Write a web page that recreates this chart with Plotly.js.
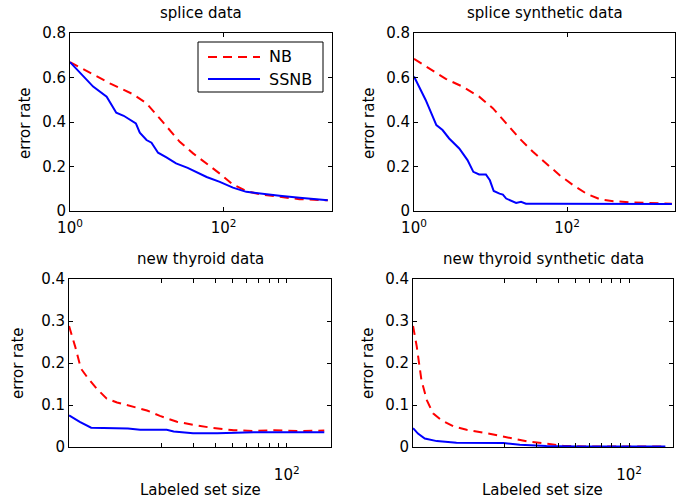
<!DOCTYPE html>
<html>
<head>
<meta charset="utf-8">
<script src="https://cdn.plot.ly/plotly-3.0.1.min.js"></script>
<style>html,body{margin:0;padding:0;background:#fff;}#chart{width:692px;height:500px;}</style>
</head>
<body>
<div id="chart"></div>
<script>
// ---- Data ----
const seriesNames = ["NB", "SSNB"];
const panelTitles = ["splice data", "splice synthetic data", "new thyroid data", "new thyroid synthetic data"];
const yLabel = "error rate";
const xLabel = "Labeled set size";

// splice data
const spliceNB_x = [1, 2, 3.3, 6.6, 9.9, 14.7, 19.9, 26.8, 40, 60, 89, 132, 197, 294, 534, 970, 2265];
const spliceNB_y = [0.669, 0.612, 0.574, 0.525, 0.484, 0.416, 0.364, 0.311, 0.259, 0.214, 0.168, 0.119, 0.090, 0.075, 0.063, 0.053, 0.048];
const spliceSSNB_x = [1, 2, 3, 4, 5, 6.2, 7.2, 8.1, 9.9, 11.5, 14, 18, 24, 34, 49, 60, 89, 132, 197, 294, 534, 970, 2265];
const spliceSSNB_y = [0.669, 0.559, 0.514, 0.442, 0.428, 0.406, 0.394, 0.352, 0.319, 0.307, 0.262, 0.241, 0.214, 0.194, 0.168, 0.153, 0.131, 0.105, 0.086, 0.078, 0.069, 0.060, 0.048];

// splice synthetic data
const spliceSynNB_x = [1, 1.74, 2.6, 4.3, 7.1, 10.7, 16, 23.9, 35.8, 53.5, 80, 120, 179, 268, 402, 735, 2340];
const spliceSynNB_y = [0.684, 0.630, 0.594, 0.559, 0.514, 0.462, 0.394, 0.326, 0.266, 0.214, 0.161, 0.116, 0.078, 0.053, 0.044, 0.038, 0.033];
const spliceSynSSNB_x = [1, 1.42, 1.96, 2.36, 2.88, 3.9, 5.0, 5.96, 7.1, 8.7, 9.8, 11, 13.1, 14.5, 16, 18.5, 21.6, 25, 29, 53.5, 2340];
const spliceSynSSNB_y = [0.605, 0.499, 0.386, 0.364, 0.326, 0.281, 0.229, 0.176, 0.164, 0.164, 0.138, 0.090, 0.078, 0.074, 0.056, 0.048, 0.036, 0.041, 0.033, 0.033, 0.032];

// new thyroid data
const thyNB_x = [6.1, 6.6, 7.1, 7.8, 8.7, 9.9, 11.3, 14, 16.6, 19.6, 24.4, 30, 39, 50.7, 65.6, 85, 120, 162];
const thyNB_y = [0.288, 0.239, 0.187, 0.163, 0.139, 0.115, 0.106, 0.095, 0.087, 0.074, 0.060, 0.053, 0.045, 0.040, 0.038, 0.040, 0.038, 0.039];
const thySSNB_x = [6.1, 7, 8.1, 11.3, 13, 15.2, 18.9, 21.4, 23.4, 30, 41, 65.6, 101, 162];
const thySSNB_y = [0.0755, 0.060, 0.046, 0.045, 0.044, 0.041, 0.040, 0.041, 0.037, 0.033, 0.033, 0.035, 0.035, 0.035];

// new thyroid synthetic data
const thySynNB_x = [6.1, 6.4, 6.8, 7.3, 7.9, 8.8, 10.3, 12.2, 15.8, 20.5, 26.5, 34.3, 42.6, 57.5, 160];
const thySynNB_y = [0.288, 0.239, 0.159, 0.111, 0.080, 0.064, 0.049, 0.041, 0.033, 0.024, 0.0135, 0.008, 0.003, 0.001, 0.001];
const thySynSSNB_x = [6.1, 6.5, 7.1, 8.3, 10.7, 13.3, 16.5, 19.6, 24.3, 34.3, 53, 160];
const thySynSSNB_y = [0.045, 0.032, 0.020, 0.014, 0.010, 0.0095, 0.010, 0.0095, 0.0056, 0.0024, 0.001, 0.001];

// tick labels
const topXTickVals = [1, 100];
const topXTickText = ["10<sup>0</sup>", "10<sup>2</sup>"];
const botXTickVals = [20, 30, 40, 50, 60, 70, 80, 90, 100];
const botXTickText = [" ", " ", " ", " ", " ", " ", " ", " ", "10<sup>2</sup>"];

// ---- Styling ----
const FONT = "DejaVu Sans, Liberation Sans, Arial, sans-serif";
const nbLine = {color: "#ff0000", width: 2, dash: "9px,6px"};
const ssnbLine = {color: "#0000ff", width: 2};

const panels = [
  {nb: [spliceNB_x, spliceNB_y], ss: [spliceSSNB_x, spliceSSNB_y], xa: "x", ya: "y"},
  {nb: [spliceSynNB_x, spliceSynNB_y], ss: [spliceSynSSNB_x, spliceSynSSNB_y], xa: "x2", ya: "y2"},
  {nb: [thyNB_x, thyNB_y], ss: [thySSNB_x, thySSNB_y], xa: "x3", ya: "y3"},
  {nb: [thySynNB_x, thySynNB_y], ss: [thySynSSNB_x, thySynSSNB_y], xa: "x4", ya: "y4"}
];

const traces = [];
panels.forEach((p) => {
  traces.push({x: p.nb[0], y: p.nb[1], xaxis: p.xa, yaxis: p.ya, type: "scatter", mode: "lines",
    name: seriesNames[0], line: nbLine, showlegend: false, hoverinfo: "skip"});
  traces.push({x: p.ss[0], y: p.ss[1], xaxis: p.xa, yaxis: p.ya, type: "scatter", mode: "lines",
    name: seriesNames[1], line: ssnbLine, showlegend: false, hoverinfo: "skip"});
});

function xAx(domain, range, tv, tt, standoff) {
  return {domain: domain, type: "log", range: range, tickmode: "array", tickvals: tv, ticktext: tt,
    tickangle: 0,
    ticks: "inside", ticklen: 4, tickcolor: "#000", showline: true, linecolor: "#000", linewidth: 1,
    mirror: "ticks", showgrid: false, zeroline: false, ticklabelstandoff: standoff,
    tickfont: {family: FONT, size: 15, color: "#000"}};
}
function yAx(domain, range, dtick, anchor) {
  return {domain: domain, range: range, dtick: dtick, tick0: 0, anchor: anchor,
    ticks: "inside", ticklen: 4, tickcolor: "#000", showline: true, linecolor: "#000", linewidth: 1,
    mirror: "ticks", showgrid: false, zeroline: false,
    tickfont: {family: FONT, size: 15, color: "#000"}};
}

const W = 692, H = 500;
const px = v => v / W, py = v => 1 - v / H;
const L1 = px(70), R1 = px(332), L2 = px(414), R2 = px(675);
const L3 = px(69), R3 = px(331), L4 = px(413), R4 = px(673);
const topDom = [py(211), py(33)];
const botDom = [py(447), py(279)];
const topRange = [0, 3.41];
const botRange = [0.785, 2.247];

const annFont = {family: FONT, size: 15, color: "#000"};
const titleFont = {family: FONT, size: 15, color: "#000"};
const legFont = {family: FONT, size: 16, color: "#000"};
function ann(text, x, y, extra) {
  return Object.assign({text: text, x: px(x), y: py(y), xref: "paper", yref: "paper", showarrow: false,
    xanchor: "center", yanchor: "middle", font: annFont}, extra || {});
}
const annotations = [
  ann(panelTitles[0], 201, 13, {font: titleFont}),
  ann(panelTitles[1], 545, 13, {font: titleFont}),
  ann(panelTitles[2], 200, 259, {font: titleFont}),
  ann(panelTitles[3], 543, 259, {font: titleFont}),
  ann(yLabel, 25, 123, {textangle: -90}),
  ann(yLabel, 369, 123, {textangle: -90}),
  ann(yLabel, 18, 363, {textangle: -90}),
  ann(yLabel, 368, 363, {textangle: -90}),
  ann(xLabel, 200, 490),
  ann(xLabel, 542, 490),
  // legend entries
  ann(seriesNames[0], 267, 57, {xanchor: "left", font: legFont}),
  ann(seriesNames[1], 267, 79, {xanchor: "left", font: legFont})
];

// legend box and sample lines (drawn as shapes, styled from the series styles)
const shapes = [
  {type: "rect", xref: "paper", yref: "paper", x0: px(198), x1: px(323), y0: py(92), y1: py(42),
    fillcolor: "#fff", line: {color: "#000", width: 1}, layer: "above"},
  {type: "line", xref: "paper", yref: "paper", x0: px(208), x1: px(260), y0: py(57), y1: py(57),
    line: nbLine, layer: "above"},
  {type: "line", xref: "paper", yref: "paper", x0: px(208), x1: px(260), y0: py(79), y1: py(79),
    line: ssnbLine, layer: "above"}
];

const layout = {
  width: W, height: H,
  margin: {l: 0, r: 0, t: 0, b: 0, pad: 0},
  paper_bgcolor: "#fff", plot_bgcolor: "#fff",
  showlegend: false,
  xaxis: xAx([L1, R1], topRange, topXTickVals, topXTickText, 3),
  yaxis: yAx(topDom, [0, 0.8], 0.2, "x"),
  xaxis2: xAx([L2, R2], topRange, topXTickVals, topXTickText, 3),
  yaxis2: yAx(topDom, [0, 0.8], 0.2, "x2"),
  xaxis3: xAx([L3, R3], botRange, botXTickVals, botXTickText, 14),
  yaxis3: yAx(botDom, [0, 0.4], 0.1, "x3"),
  xaxis4: xAx([L4, R4], botRange, botXTickVals, botXTickText, 14),
  yaxis4: yAx(botDom, [0, 0.4], 0.1, "x4"),
  annotations: annotations,
  shapes: shapes
};
layout.xaxis.anchor = "y";
layout.xaxis2.anchor = "y2";
layout.xaxis3.anchor = "y3";
layout.xaxis4.anchor = "y4";

Plotly.newPlot("chart", traces, layout, {staticPlot: true, displayModeBar: false});
</script>
</body>
</html>
